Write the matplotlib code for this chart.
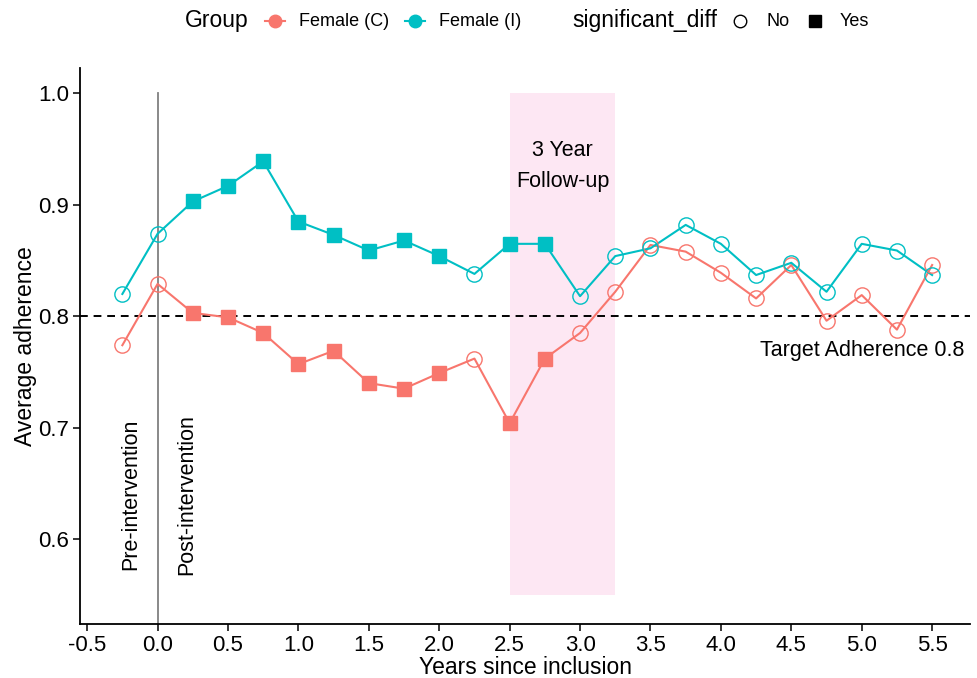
import matplotlib
matplotlib.use("Agg")
from matplotlib import pyplot as plt
from matplotlib.lines import Line2D

plt.rcParams['font.family'] = ['Liberation Sans', 'DejaVu Sans']

years = [-0.25, 0.0, 0.25, 0.5, 0.75, 1.0, 1.25, 1.5, 1.75, 2.0, 2.25, 2.5,
         2.75, 3.0, 3.25, 3.5, 3.75, 4.0, 4.25, 4.5, 4.75, 5.0, 5.25, 5.5]
female_c = [0.774, 0.829, 0.803, 0.799, 0.785, 0.757, 0.769, 0.740, 0.735, 0.749, 0.762, 0.704,
            0.762, 0.785, 0.822, 0.864, 0.858, 0.839, 0.816, 0.846, 0.796, 0.819, 0.788, 0.846]
female_i = [0.820, 0.874, 0.903, 0.917, 0.939, 0.885, 0.873, 0.859, 0.868, 0.854, 0.838, 0.865,
            0.865, 0.818, 0.854, 0.861, 0.882, 0.865, 0.837, 0.848, 0.822, 0.865, 0.859, 0.837]
significant = [False, False, True, True, True, True, True, True, True, True, False, True,
               True, False, False, False, False, False, False, False, False, False, False, False]

groups = [("Female (C)", female_c, "#F8766D"), ("Female (I)", female_i, "#00BFC4")]
target = 0.8
followup = (2.5, 3.25)

fig = plt.figure(figsize=(9.77, 6.78), dpi=100)
ax = fig.add_axes([0.082, 0.080, 0.911, 0.820])

# follow-up window and reference lines
ax.fill_between(followup, 0.55, 1.0, color="#FDE7F3", lw=0, zorder=0)
ax.plot([0, 0], [0.5, 1.0], color="#808080", lw=1.3, zorder=1)
ax.axhline(target, color="black", ls=(0, (4, 3)), lw=1.4, zorder=1)

for name, vals, col in groups:
    ax.plot(years, vals, color=col, lw=1.5, zorder=2)
    xs = [x for x, s in zip(years, significant) if s]
    ys = [v for v, s in zip(vals, significant) if s]
    ax.plot(xs, ys, ls="none", marker="s", ms=10, color=col, zorder=3)
    xn = [x for x, s in zip(years, significant) if not s]
    yn = [v for v, s in zip(vals, significant) if not s]
    ax.plot(xn, yn, ls="none", marker="o", ms=11, mfc="none", mec=col, mew=1.0, zorder=3)

ax.text(-0.19, 0.64, "Pre-intervention", rotation=90, ha="center", va="center", fontsize=15.5)
ax.text(0.21, 0.64, "Post-intervention", rotation=90, ha="center", va="center", fontsize=15.5)
ax.text(2.875, 0.935, "3 Year\nFollow-up", ha="center", va="center", fontsize=15.5, linespacing=1.6)
ax.text(5.73, 0.769, "Target Adherence 0.8", ha="right", va="center", fontsize=15.5)

ax.set_xlim(-0.55, 5.77)
ax.set_ylim(0.524, 1.023)
ax.set_xticks([-0.5 + 0.5 * i for i in range(13)])
ax.set_xticklabels([f"{-0.5 + 0.5 * i:.1f}" for i in range(13)])
ax.set_yticks([0.6, 0.7, 0.8, 0.9, 1.0])
ax.tick_params(labelsize=16, length=5, width=1.1, colors="black", pad=3)
for s in ["top", "right"]:
    ax.spines[s].set_visible(False)
for s in ["left", "bottom"]:
    ax.spines[s].set_linewidth(1.3)
ax.set_xlabel("Years since inclusion", fontsize=16.5, labelpad=0)
ax.set_ylabel("Average adherence", fontsize=16.5, labelpad=1)

# legend along the top, laid out like ggplot's
ly = 1 - 21 / 678
fig.text(185 / 977, ly, "Group", fontsize=16.5, va="center", ha="left")
for (name, vals, col), kx in zip(groups, [275, 415]):
    fig.add_artist(Line2D([(kx - 10) / 977, (kx + 10) / 977], [ly, ly], color=col, lw=1.5,
                          transform=fig.transFigure))
    fig.add_artist(Line2D([kx / 977], [ly], marker="o", ms=9, color=col, transform=fig.transFigure))
    fig.text((kx + 24) / 977, ly, name, fontsize=13, va="center", ha="left")
fig.text(572 / 977, ly, "significant_diff", fontsize=16.5, va="center", ha="left")
fig.add_artist(Line2D([740 / 977], [ly], marker="o", ms=9, mfc="none", mec="black", mew=1.0,
                      transform=fig.transFigure))
fig.text(766 / 977, ly, "No", fontsize=13, va="center", ha="left")
fig.add_artist(Line2D([815 / 977], [ly], marker="s", ms=8, color="black", transform=fig.transFigure))
fig.text(840 / 977, ly, "Yes", fontsize=13, va="center", ha="left")

fig.savefig("out.png", dpi=100)
